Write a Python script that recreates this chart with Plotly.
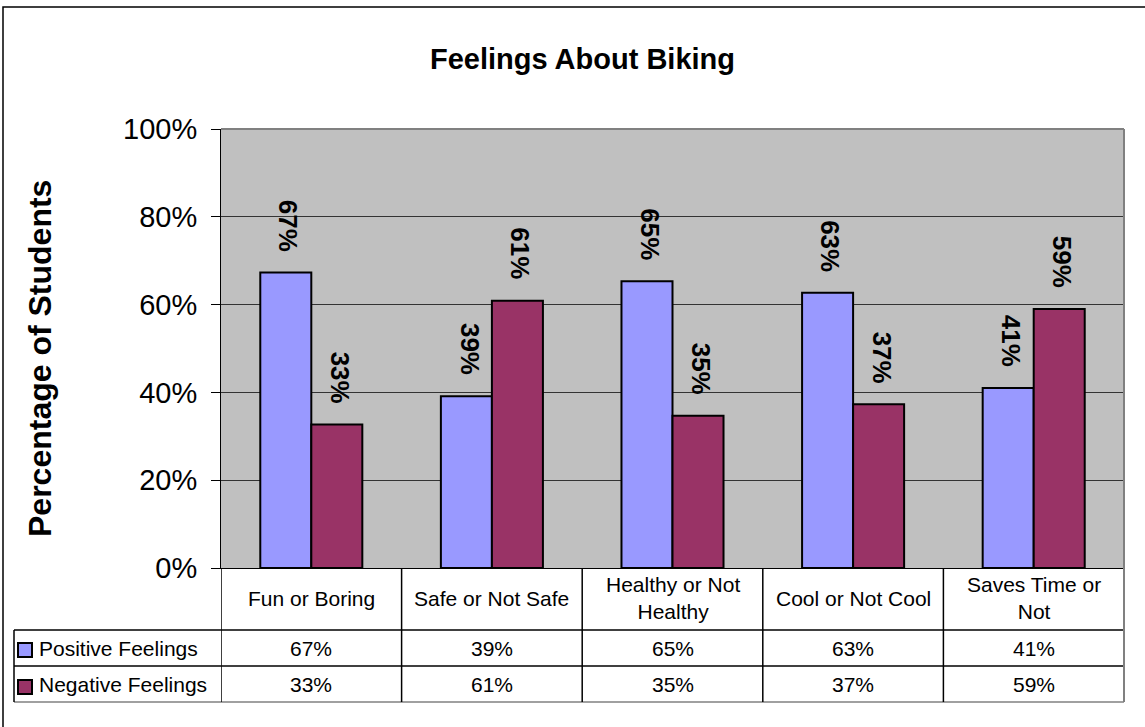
import plotly.graph_objects as go

categories = ["Fun or Boring", "Safe or Not Safe", "Healthy or Not Healthy",
              "Cool or Not Cool", "Saves Time or Not"]
header_labels = ["Fun or Boring", "Safe or Not Safe", "Healthy or Not<br>Healthy",
                 "Cool or Not Cool", "Saves Time or<br>Not"]
positive = [0.673, 0.391, 0.653, 0.627, 0.41]
negative = [0.327, 0.609, 0.347, 0.373, 0.59]
series_names = ["Positive Feelings", "Negative Feelings"]
series_colors = ["#9999FF", "#993366"]
y_ticks = [0, 0.2, 0.4, 0.6, 0.8, 1.0]
y_ticklabels = ["0%", "20%", "40%", "60%", "80%", "100%"]

W, H = 1145, 727
L, R, T, B = 221, 1124, 129, 568
FONT = "Liberation Sans, Arial, sans-serif"


# pixel -> paper helpers for the table / frame layout
def px(x):
    return (x - L) / (R - L)


def py(y):
    return (B - y) / (B - T)


fig = go.Figure()

for name, vals, col in zip(series_names, [positive, negative], series_colors):
    fig.add_trace(go.Bar(x=categories, y=vals, name=name,
                         marker=dict(color=col, line=dict(color="black", width=2))))

fig.update_layout(
    width=W, height=H,
    margin=dict(l=L, r=W - R, t=T, b=H - B),
    paper_bgcolor="white", plot_bgcolor="#C0C0C0",
    barmode="group", bargap=0.435, bargroupgap=0,
    showlegend=False,
    font=dict(family=FONT, color="black"),
    xaxis=dict(range=[-0.5, 4.5], showticklabels=False, showgrid=False,
               showline=True, linecolor="black", linewidth=1, ticks=""),
    yaxis=dict(range=[0, 1], tickvals=y_ticks, ticktext=y_ticklabels,
               tickfont=dict(size=29), ticks="outside", ticklen=9,
               tickcolor="black", ticklabelstandoff=8,
               showgrid=True, gridcolor="#333333", gridwidth=1,
               showline=True, linecolor="black", linewidth=1, zeroline=False),
)

annotations = []

# bar value labels (rotated)
for vals, shift in [(positive, -25.5), (negative, 25.5)]:
    for c, v in zip(categories, vals):
        annotations.append(dict(x=c, y=v, xref="x", yref="y", text="<b>%d%%</b>" % round(v * 100),
                                showarrow=False, textangle=90, xanchor="center", yanchor="bottom",
                                xshift=shift + 3, yshift=19, font=dict(size=26)))

# title and y-axis title
annotations.append(dict(x=px(582), y=py(59), xref="paper", yref="paper",
                        text="<b>Feelings About Biking</b>", showarrow=False,
                        xanchor="center", yanchor="middle", font=dict(size=29)))
annotations.append(dict(x=px(40), y=py(359), xref="paper", yref="paper",
                        text="<b>Percentage of Students</b>", showarrow=False,
                        xanchor="center", yanchor="middle",
                        textangle=-90, font=dict(size=32)))

# data table
for i, lab in enumerate(header_labels):
    annotations.append(dict(x=i, y=py(598), xref="x", yref="paper", text=lab,
                            showarrow=False, xanchor="center", yanchor="middle",
                            font=dict(size=21)))
for row_y, vals in [(648, positive), (684, negative)]:
    for i, v in enumerate(vals):
        annotations.append(dict(x=i, y=py(row_y), xref="x", yref="paper",
                                text="%d%%" % round(v * 100), showarrow=False,
                                xanchor="center", yanchor="middle", font=dict(size=21)))
for row_y, name in [(648, series_names[0]), (684, series_names[1])]:
    annotations.append(dict(x=px(37), y=py(row_y), xref="paper", yref="paper", text=name,
                            showarrow=False, xanchor="left", yanchor="middle",
                            font=dict(size=21)))

fig.update_layout(annotations=annotations)

shapes = []
# outer chart frame
shapes.append(dict(type="rect", xref="paper", yref="paper", x0=px(3), x1=px(1160),
                   y0=py(7), y1=py(740), line=dict(color="black", width=1.5), layer="below"))
# plot area top/right grey border
shapes.append(dict(type="line", xref="paper", yref="paper", x0=0, x1=1, y0=1, y1=1,
                   line=dict(color="#808080", width=2)))
shapes.append(dict(type="line", xref="paper", yref="paper", x0=1, x1=1, y0=0, y1=1,
                   line=dict(color="#808080", width=2)))
# table horizontal lines
for yy, col in [(630, "black"), (666, "black"), (702, "#808080")]:
    shapes.append(dict(type="line", xref="paper", yref="paper", x0=px(14), x1=1,
                       y0=py(yy), y1=py(yy), line=dict(color=col, width=1.5)))
# table vertical lines
shapes.append(dict(type="line", xref="paper", yref="paper", x0=px(14), x1=px(14),
                   y0=py(630), y1=py(702), line=dict(color="black", width=1.5)))
for i in range(len(categories)):
    shapes.append(dict(type="line", xref="x", yref="paper", x0=i - 0.5, x1=i - 0.5,
                       y0=0, y1=py(702), line=dict(color="black", width=1.5)))
shapes.append(dict(type="line", xref="paper", yref="paper", x0=1, x1=1,
                   y0=0, y1=py(702), line=dict(color="#808080", width=2)))
# legend keys
for (y0, y1), col in zip([(643, 657), (680, 694)], series_colors):
    shapes.append(dict(type="rect", xref="paper", yref="paper", x0=px(18), x1=px(32),
                       y0=py(y1), y1=py(y0), fillcolor=col, line=dict(color="black", width=2)))

fig.update_layout(shapes=shapes)

# drop the default 8px body margin so the figure sits at the window origin
fig.write_html("out.html", config={"displayModeBar": False},
               post_script="document.body.style.margin='0';")
